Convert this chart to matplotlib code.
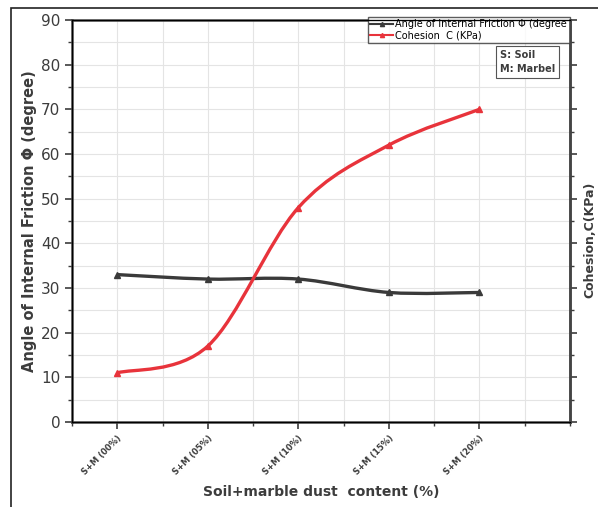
import numpy as np
import matplotlib.pyplot as plt
from matplotlib.path import Path
from matplotlib.patches import PathPatch, Rectangle
from matplotlib.lines import Line2D
from matplotlib.ticker import MultipleLocator

categories = ['S+M (00%)', 'S+M (05%)', 'S+M (10%)', 'S+M (15%)', 'S+M (20%)']
friction_angle = [33, 32, 32, 29, 29]
cohesion = [11, 17, 48, 62, 70]

BLACK = '#3a3a3a'
RED = '#e8333b'
TXT = '#3c3c3c'


def smooth_path(x, y, tension=1.0 / 6):
    # Catmull-Rom style cubic bezier through the points
    x = np.asarray(x, float)
    y = np.asarray(y, float)
    verts = [(x[0], y[0])]
    codes = [Path.MOVETO]
    n = len(x)
    for i in range(n - 1):
        p0 = (x[max(i - 1, 0)], y[max(i - 1, 0)])
        p1 = (x[i], y[i])
        p2 = (x[i + 1], y[i + 1])
        p3 = (x[min(i + 2, n - 1)], y[min(i + 2, n - 1)])
        c1 = (p1[0] + (p2[0] - p0[0]) * tension, p1[1] + (p2[1] - p0[1]) * tension)
        c2 = (p2[0] - (p3[0] - p1[0]) * tension, p2[1] - (p3[1] - p1[1]) * tension)
        verts += [c1, c2, p2]
        codes += [Path.CURVE4] * 3
    return Path(verts, codes)


fig = plt.figure(figsize=(5.98, 5.07), dpi=100)
fig.patches.append(Rectangle((11 / 598, -0.05), 1.1, 1 - 8 / 507 + 0.05,
                             transform=fig.transFigure, fill=False,
                             edgecolor='#222222', linewidth=1.2))

ax = fig.add_axes([72 / 598, 1 - 422 / 507, (570 - 72) / 598, (422 - 20) / 507])
xs = np.arange(len(categories))

ax.add_patch(PathPatch(smooth_path(xs, friction_angle), facecolor='none',
                       edgecolor=BLACK, linewidth=2.4, zorder=3))
ax.plot(xs, friction_angle, linestyle='none', marker='^', color=BLACK,
        markersize=5, zorder=4)
ax.add_patch(PathPatch(smooth_path(xs, cohesion), facecolor='none',
                       edgecolor=RED, linewidth=2.4, zorder=3))
ax.plot(xs, cohesion, linestyle='none', marker='^', color=RED,
        markersize=5, zorder=4)

ax.set_xlim(-0.5, 5)
ax.set_ylim(0, 90)
ax.set_xticks(xs)
ax.set_xticklabels(categories, rotation=45, ha='right', rotation_mode='anchor',
                   fontsize=6, fontweight='bold', color=TXT)
ax.xaxis.set_minor_locator(MultipleLocator(0.5))
ax.yaxis.set_major_locator(MultipleLocator(10))
ax.yaxis.set_minor_locator(MultipleLocator(5))
ax.tick_params(axis='y', labelsize=11, colors=TXT, length=5, width=1.2)
ax.tick_params(axis='x', length=5, width=1.2, colors=TXT)
ax.tick_params(which='minor', length=3, width=1, colors=TXT)
ax.grid(True, which='both', color='#e4e4e4', linewidth=0.8, zorder=0)
ax.set_axisbelow(True)
for side in ['left', 'bottom', 'right', 'top']:
    ax.spines[side].set_linewidth(1.8)
    ax.spines[side].set_color('#444444')

ax.set_xlabel('Soil+marble dust  content (%)', fontsize=10, fontweight='bold',
              color=TXT, labelpad=6)
ax.set_ylabel('Angle of Internal Friction Φ (degree)', fontsize=10.5,
              fontweight='bold', color=TXT, labelpad=3)

# right axis: ticks only, shares the same scale
ax2 = ax.twinx()
ax2.set_ylim(0, 90)
ax2.yaxis.set_major_locator(MultipleLocator(10))
ax2.yaxis.set_minor_locator(MultipleLocator(5))
ax2.tick_params(axis='y', labelright=False, length=5, width=1.2, colors=TXT)
ax2.tick_params(which='minor', length=3, width=1, colors=TXT)
ax2.spines['right'].set_linewidth(1.8)
ax2.spines['right'].set_color('#444444')
fig.text(590 / 598, 1 - 240 / 507, 'Cohesion,C(KPa)', rotation=90,
         ha='center', va='center', fontsize=9, fontweight='bold', color=TXT)

handles = [Line2D([], [], color=BLACK, marker='^', markersize=3, linewidth=1.5),
           Line2D([], [], color=RED, marker='^', markersize=3, linewidth=1.5)]
leg = ax.legend(handles, ['Angle of Internal Friction Φ (degree',
                          'Cohesion  C (KPa)'],
                loc='upper right', bbox_to_anchor=(0.999, 1.008), fontsize=7,
                frameon=True, fancybox=False, borderpad=0.25, handlelength=2.4,
                handletextpad=0.2, labelspacing=0.15, borderaxespad=0)
leg.get_frame().set_edgecolor('#333333')
leg.get_frame().set_linewidth(1.0)
leg.set_zorder(10)

ax.text(0.86, 0.925, 'S: Soil\nM: Marbel', transform=ax.transAxes,
        ha='left', va='top', multialignment='left', fontsize=7,
        fontweight='bold', color=TXT, linespacing=1.5, zorder=10,
        bbox=dict(boxstyle='square,pad=0.4', facecolor='white',
                  edgecolor='#555555', linewidth=0.8))

fig.savefig('out.png', dpi=100)
